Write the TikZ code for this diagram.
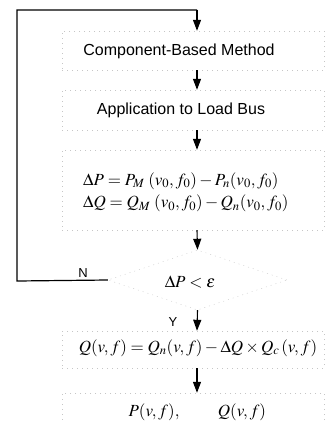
\documentclass[tikz,border=0pt]{standalone}
\usepackage{mathptmx}
\usepackage{fontspec}
\setmainfont{Liberation Sans}
\usetikzlibrary{arrows.meta,shapes.geometric}
\begin{document}
\begin{tikzpicture}[x=1pt,y=-1pt,
  faint/.style={draw=gray!45, dash pattern=on 1pt off 4pt, line width=0.4pt},
  boxf/.style={faint, rectangle, inner sep=0pt},
  arr/.style={line width=1.1pt, -{Triangle[length=11pt,width=8pt]}},
  loopline/.style={line width=1.2pt},
  txt/.style={font=\fontsize{16}{19}\selectfont, inner sep=0pt},
  mtxt/.style={font=\fontsize{17}{20}\selectfont, inner sep=0pt},
  lbl/.style={font=\fontsize{13}{15}\selectfont, inner sep=0pt}]
\useasboundingbox (0,0) rectangle (329,424);
\coordinate (ax) at (197,0);
% boxes
\node[boxf, minimum width=262pt, minimum height=39pt] (b1) at (193,50.5) {};
\node[boxf, minimum width=262pt, minimum height=40pt] (b2) at (193,110) {};
\node[boxf, minimum width=262pt, minimum height=80pt] (b3) at (193,190) {};
\node[faint, diamond, aspect=3, minimum width=179pt, minimum height=60pt, inner sep=0pt] (d) at (197.5,280) {};
\node[boxf, minimum width=262pt, minimum height=37pt] (b4) at (193,349.5) {};
\node[boxf, minimum width=262pt, minimum height=50pt] (b5) at (193,418) {};
% texts
\node[txt] (t1) at (179,51) {Component-Based Method};
\node[txt] (t2) at (181,110) {Application to Load Bus};
\node[font=\fontsize{17}{22.5}\selectfont, inner sep=0pt, anchor=west, align=left] (t3) at (83,192)
  {$\Delta P = P_{M}\;(v_0,f_0) - P_{n}(v_0,f_0)$\\ $\Delta Q = Q_{M}\;(v_0,f_0) - Q_{n}(v_0,f_0)$};
\node[mtxt] (td) at (190,282) {$\Delta P < \varepsilon$};
\node[mtxt] (t4) at (198,348) {$Q(v,f) = Q_{n}(v,f) - \Delta Q \times Q_{c}\,(v,f)$};
\node[mtxt] (t5a) at (154,412) {$P(v,f),$};
\node[mtxt] (t5b) at (242,412) {$Q(v,f)$};
\node[lbl] (ln) at (83,273) {N};
\node[lbl] (ly) at (173,322) {Y};
% arrows
\draw[arr] (b1.south -| ax) -- (b2.north -| ax);
\draw[arr] (b2.south -| ax) -- (b3.north -| ax);
\draw[arr] (b3.south -| ax) -- (d.north);
\draw[arr] (d.south) -- (b4.north -| ax);
\draw[arr] (b4.south -| ax) -- (b5.north -| ax);
% loop
\coordinate (c1) at (17,281);
\coordinate (c2) at (17,10);
\coordinate (c3) at (197,10);
\draw[loopline] (d.west) -- (c1) -- (c2) -- (c3);
\draw[arr] (c3) -- (b1.north -| ax);
\end{tikzpicture}
\end{document}
